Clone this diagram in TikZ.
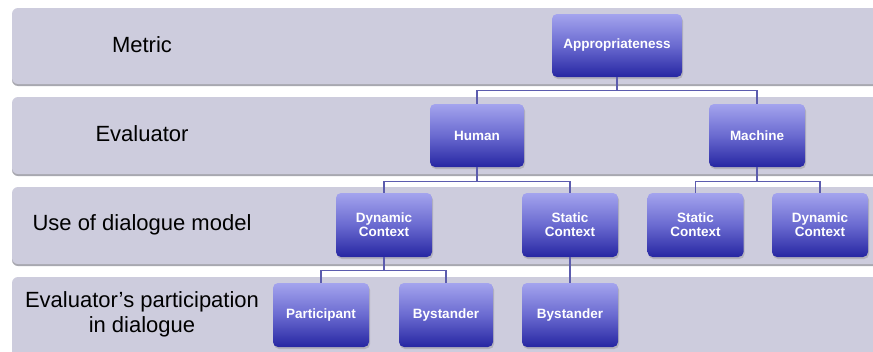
\documentclass[tikz,border=0pt]{standalone}
\usepackage{fontspec}
\setmainfont{Liberation Sans}
\usetikzlibrary{shadows}
\definecolor{bandfill}{HTML}{CDCCDD}
\definecolor{bandshadow}{HTML}{A8A8B0}
\definecolor{boxtop}{HTML}{A4A4EE}
\definecolor{boxmid}{HTML}{6A6AD0}
\definecolor{boxbot}{HTML}{2626A2}
\definecolor{linkcol}{HTML}{5C5CAE}
\tikzset{
  band/.style={fill=bandfill, rounded corners=6pt, draw=none},
  bandsh/.style={fill=bandshadow, rounded corners=6pt, draw=none},
  box/.style={rectangle, rounded corners=5pt, draw=none,
    top color=boxtop, bottom color=boxbot, middle color=boxmid,
    text=white, font=\fontsize{13.5}{14}\selectfont\bfseries, align=center,
    minimum height=63pt, inner sep=0pt,
    drop shadow={opacity=0.35, shadow xshift=1pt, shadow yshift=-2pt}},
  rowlabel/.style={font=\fontsize{22}{25}\selectfont, text=black, align=center},
  link/.style={draw=linkcol, line width=1.2pt}
}
\begin{document}
\begin{tikzpicture}[x=1pt,y=-1pt]
\useasboundingbox (0,0) rectangle (873,351);
\clip (0,0) rectangle (873,351);
\fill[white] (0,0) rectangle (873,351);
% bands
\foreach \a/\b in {8/84, 97/174, 187/264, 277/362}{
  \fill[bandsh] (12,\a+2) rectangle (890,\b+2);
  \fill[band] (12,\a) rectangle (890,\b);
}
% row labels
\node[rowlabel] (l1) at (142,45) {Metric};
\node[rowlabel] (l2) at (142,134) {Evaluator};
\node[rowlabel] (l3) at (142,225) {Use of dialogue model};
\node[rowlabel] (l4) at (142,314) {Evaluator’s participation\\in dialogue};
% boxes
\node[box, minimum width=130pt] (app) at (617,45.5) {Appropriateness};
\node[box, minimum width=94pt] (hum) at (477,135.5) {Human};
\node[box, minimum width=96pt] (mac) at (757,135.5) {Machine};
\node[box, minimum width=96pt, minimum height=64pt] (dyn1) at (384,225) {Dynamic\\Context};
\node[box, minimum width=96pt, minimum height=64pt] (sta1) at (570,225) {Static\\Context};
\node[box, minimum width=96pt, minimum height=64pt] (sta2) at (695.5,225) {Static\\Context};
\node[box, minimum width=96pt, minimum height=64pt] (dyn2) at (820,225) {Dynamic\\Context};
\node[box, minimum width=96pt, minimum height=64pt] (par) at (321,315) {Participant};
\node[box, minimum width=94pt, minimum height=64pt] (bys1) at (446,315) {Bystander};
\node[box, minimum width=96pt, minimum height=64pt] (bys2) at (570,315) {Bystander};
% connectors
\begin{scope}[on background layer/.style={}]
\draw[link] (app.south) -- ++(0,13) -| (hum.north);
\draw[link] (app.south) -- ++(0,13) -| (mac.north);
\draw[link] (hum.south) -- ++(0,14) -| (dyn1.north);
\draw[link] (hum.south) -- ++(0,14) -| (sta1.north);
\draw[link] (mac.south) -- ++(0,14) -| (sta2.north);
\draw[link] (mac.south) -- ++(0,14) -| (dyn2.north);
\draw[link] (dyn1.south) -- ++(0,13) -| (par.north);
\draw[link] (dyn1.south) -- ++(0,13) -| (bys1.north);
\draw[link] (sta1.south) -- (bys2.north);
\end{scope}
\end{tikzpicture}
\end{document}
